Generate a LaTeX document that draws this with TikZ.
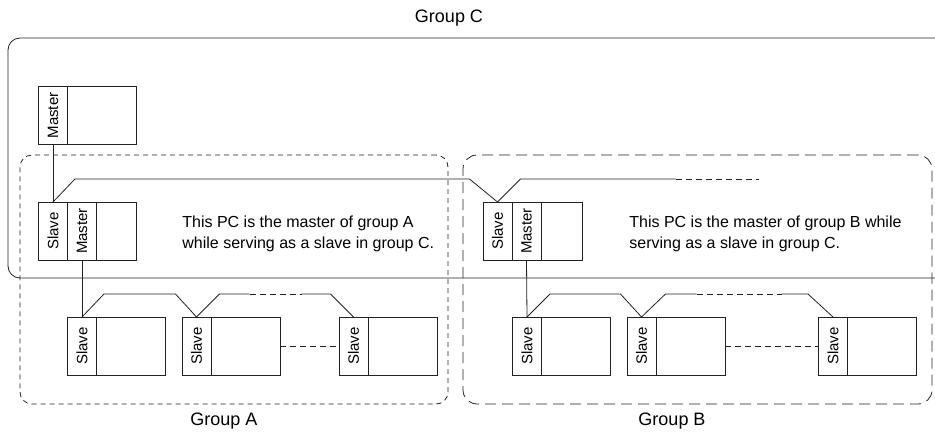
\documentclass[tikz,border=0pt]{standalone}
\usepackage{fontspec}
\setmainfont{Liberation Sans}
\usetikzlibrary{positioning}
\definecolor{ink}{HTML}{222222}
\tikzset{
  every picture/.style={line width=0.8pt},
  lbl/.style={draw=ink,minimum width=29,minimum height=58,inner sep=0pt,outer sep=0pt,font=\fontsize{15}{15}\selectfont},
  pane/.style={draw=ink,minimum width=69,minimum height=58,inner sep=0pt,outer sep=0pt},
  half/.style={pane,minimum width=40},
  grpa/.style={draw=ink,rounded corners=12pt,dash pattern=on 5pt off 4pt},
  grpb/.style={draw=ink,rounded corners=14pt,dash pattern=on 11pt off 6pt},
  glab/.style={font=\fontsize{18}{18}\selectfont},
  txt/.style={align=left,anchor=west,inner sep=0pt,font=\fontsize{16}{21}\selectfont},
  bus/.style={draw=ink},
  gap/.style={draw=ink,dash pattern=on 6pt off 4pt},
}
\begin{document}
\begin{tikzpicture}[x=1pt,y=-1pt]
  \useasboundingbox (0,0) rectangle (935,432);
  % group C
  \draw[ink,rounded corners=12pt] (935,38) -- (8,38) -- (8,278) -- (935,278);
  \node[glab] (lc) at (449,18) {Group C};
  % groups A and B
  \node[grpa,minimum width=428,minimum height=249] (ga) at (234,279.5) {};
  \node[grpb,minimum width=469,minimum height=249] (gb) at (697.5,279.5) {};
  \node[glab] (la) at (224,421) {Group A};
  \node[glab] (lb) at (672,421) {Group B};
  % master of group C
  \node[lbl] (ms) at (53,115.5) {\rotatebox{90}{Master}};
  \node[pane,right=0pt of ms] (msp) {};
  % master of group A
  \node[lbl] (sa) at (53,231) {\rotatebox{90}{Slave}};
  \node[lbl,right=0pt of sa] (ma) {\rotatebox{90}{Master}};
  \node[half,right=0pt of ma] (pa) {};
  \node[txt] (ta) at (182,234) {This PC is the master of group A\\while serving as a slave in group C.};
  % master of group B
  \node[lbl] (sb) at (497.5,231) {\rotatebox{90}{Slave}};
  \node[lbl,right=0pt of sb] (mb) {\rotatebox{90}{Master}};
  \node[half,minimum width=41,right=0pt of mb] (pb) {};
  \node[txt] (tb) at (629,234) {This PC is the master of group B while\\serving as a slave in group C.};
  % slaves
  \foreach \n/\x in {a1/82,a2/196.5,a3/353.5,b1/527,b2/641.5,b3/833} {
    \node[lbl] (\n) at (\x,346) {\rotatebox{90}{Slave}};
    \node[pane,right=0pt of \n] (\n p) {};
  }
  % bus of group C
  \draw[bus] (ms.south) -- (sa.north);
  \draw[bus] (sa.north) -- ++(22,-23) -- ([shift={(-28,-23)}]sb.north) -- (sb.north) -- ++(23,-23) -- ++(155,0) coordinate (c1);
  \draw[gap] (c1) -- ++(83,0) coordinate (c2);
  % bus of group A
  \draw[bus] (ma.south) -- (a1.north);
  \draw[bus] (a1.north) -- ++(22,-23) -- ([shift={(-21,-23)}]a2.north) -- (a2.north) -- ++(23,-23) -- ++(30,0) coordinate (a4);
  \draw[gap] (a4) -- ++(52,0) coordinate (a5);
  \draw[bus] (a5) -- ([shift={(-23,-23)}]a3.north) -- (a3.north);
  \draw[gap] (a2p.east) -- (a3.west);
  % bus of group B
  \draw[bus] (mb.south) -- (b1.north);
  \draw[bus] (b1.north) -- ++(23,-23) -- ([shift={(-21,-23)}]b2.north) -- (b2.north) -- ++(24,-23) -- ++(31,0) coordinate (b4);
  \draw[gap] (b4) -- ++(85,0) coordinate (b5);
  \draw[bus] (b5) -- ([shift={(-25,-23)}]b3.north) -- (b3.north);
  \draw[gap] (b2p.east) -- (b3.west);
\end{tikzpicture}
\end{document}
